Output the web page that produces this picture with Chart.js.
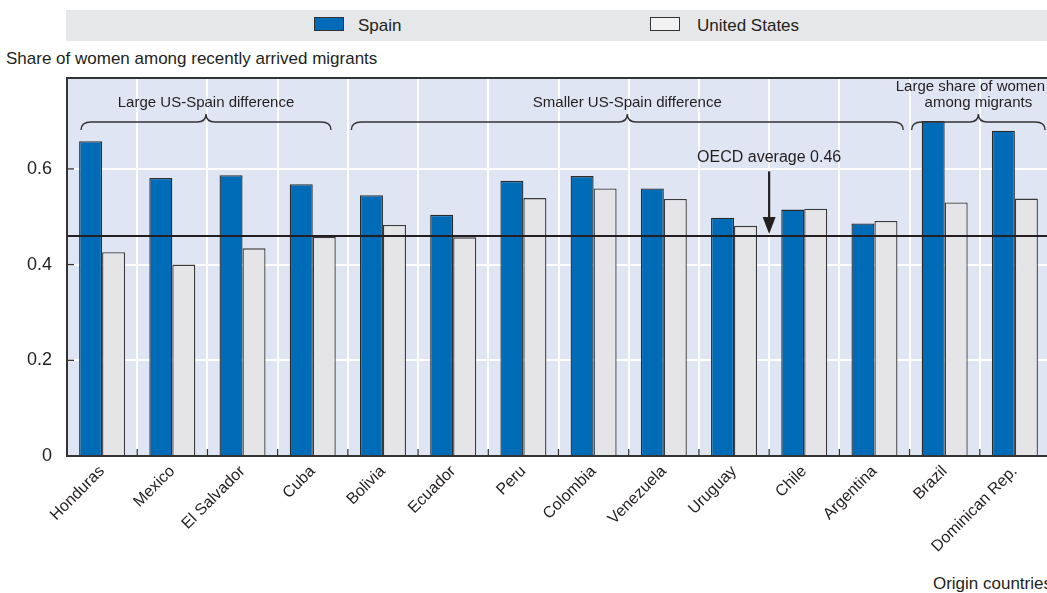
<!DOCTYPE html>
<html><head><meta charset="utf-8">
<script src="https://cdn.jsdelivr.net/npm/chart.js@4.4.1/dist/chart.umd.min.js"></script>
<style>
html,body{margin:0;padding:0;background:#fff;overflow:hidden;width:1047px;height:593px;}
#wrap{position:relative;width:1047px;height:593px;overflow:hidden;font-family:"Liberation Sans",Arial,sans-serif;color:#231f20;}
canvas{position:absolute;left:0;top:0;}
.t{position:absolute;white-space:nowrap;line-height:17px;font-size:17px;}
#legend{position:absolute;left:66px;top:10px;width:990px;height:31px;background:#e6e7e8;}
.sw{position:absolute;top:17px;width:28px;height:12px;border:1px solid #333;}
</style></head><body>
<div id="wrap">
  <div id="legend"></div>
  <div class="sw" style="left:314px;background:#006bb6;"></div>
  <div class="t" style="left:358px;top:17px;">Spain</div>
  <div class="sw" style="left:650px;background:#f2f2f2;"></div>
  <div class="t" style="left:697px;top:17px;">United States</div>
  <div class="t" style="left:6px;top:50px;">Share of women among recently arrived migrants</div>
  <div class="t" style="right:-5px;top:575px;">Origin countries</div>
  <canvas id="c" width="1050" height="593"></canvas>
</div>
<script>
const categories = ['Honduras','Mexico','El Salvador','Cuba','Bolivia','Ecuador','Peru','Colombia','Venezuela','Uruguay','Chile','Argentina','Brazil','Dominican Rep.'];
const spainValues = [0.658,0.581,0.587,0.568,0.545,0.504,0.575,0.585,0.559,0.498,0.515,0.486,0.700,0.680];
const usValues = [0.426,0.400,0.434,0.458,0.483,0.457,0.539,0.559,0.537,0.481,0.517,0.491,0.530,0.538];
const oecdAverage = 0.46;
const oecdLabel = 'OECD average 0.46';
const yTickValues = [0, 0.2, 0.4, 0.6];
const groupLabels = [['Large US-Spain difference'], ['Smaller US-Spain difference'], ['Large share of women', 'among migrants']];
const groupBraces = [[-0.3, 3.26], [3.55, 11.41], [11.53, 13.43]]; // in category-index units
const arrowAt = 9.5; // between Uruguay and Chile
const FONT = '"Liberation Sans", Arial, sans-serif';
const INK = '#231f20';

const decor = {
  id: 'decor',
  beforeDraw(chart) {
    const {ctx, chartArea: a} = chart;
    ctx.save();
    ctx.fillStyle = '#dfe5f3';
    ctx.fillRect(a.left, a.top, a.right - a.left, a.bottom - a.top);
    ctx.restore();
  },
  afterDatasetsDraw(chart) {
    const {ctx, chartArea: a, scales: {x, y}} = chart;
    const idx = v => x.getPixelForValue(0) + v * (x.getPixelForValue(1) - x.getPixelForValue(0));
    const line = (x1, y1, x2, y2) => { ctx.beginPath(); ctx.moveTo(x1, y1); ctx.lineTo(x2, y2); ctx.stroke(); };
    ctx.save();
    const yAvg = y.getPixelForValue(oecdAverage);
    ctx.strokeStyle = INK; ctx.lineWidth = 2;
    line(a.left, yAvg, a.right, yAvg);
    ctx.strokeStyle = '#333'; ctx.lineWidth = 2;
    ctx.strokeRect(a.left, a.top, a.right - a.left, a.bottom - a.top);
    ctx.lineWidth = 1.3;
    for (let i = 1; i < categories.length; i++) {
      const px = idx(i - 0.5);
      line(px, a.bottom, px, a.bottom - 7);
    }
    yTickValues.forEach(v => { if (v === 0) return; const py = y.getPixelForValue(v); line(a.left, py, a.left + 7, py); });
    ctx.fillStyle = INK; ctx.font = '15px ' + FONT; ctx.textAlign = 'center'; ctx.textBaseline = 'alphabetic';
    const yBrace = a.top + 44;
    groupBraces.forEach((g, gi) => {
      const x1 = idx(g[0]), x2 = Math.min(idx(g[1]), 1047);
      const mid = (x1 + x2) / 2;
      ctx.strokeStyle = '#333'; ctx.lineWidth = 1.4;
      ctx.beginPath();
      ctx.moveTo(x1, yBrace + 8);
      ctx.quadraticCurveTo(x1, yBrace, x1 + 10, yBrace);
      ctx.lineTo(mid - 9, yBrace);
      ctx.quadraticCurveTo(mid, yBrace, mid, yBrace - 8);
      ctx.quadraticCurveTo(mid, yBrace, mid + 9, yBrace);
      ctx.lineTo(x2 - 10, yBrace);
      ctx.quadraticCurveTo(x2, yBrace, x2, yBrace + 8);
      ctx.stroke();
      const lines = groupLabels[gi];
      lines.forEach((t, li) => {
        const w = ctx.measureText(t).width;
        let cx = mid;
        if (cx + w / 2 > 1045) cx = 1045 - w / 2;
        const base = a.top + 29 - (lines.length - 1 - li) * 16;
        ctx.fillText(t, cx, base);
      });
    });
    const ax = idx(arrowAt);
    ctx.font = '16px ' + FONT;
    ctx.fillText(oecdLabel, ax, y.getPixelForValue(0.614));
    ctx.lineWidth = 2.2; ctx.strokeStyle = INK;
    const yStart = y.getPixelForValue(0.595), tip = yAvg - 2;
    line(ax, yStart, ax, tip - 14);
    ctx.beginPath();
    ctx.moveTo(ax - 6.5, tip - 17); ctx.lineTo(ax + 6.5, tip - 17); ctx.lineTo(ax, tip); ctx.closePath();
    ctx.fillStyle = INK; ctx.fill();
    ctx.restore();
  }
};

new Chart(document.getElementById('c'), {
  type: 'bar',
  data: {
    labels: categories,
    datasets: [
      {label: 'Spain', data: spainValues, backgroundColor: '#006bb6', borderColor: '#2b2b2b', borderWidth: 1.3},
      {label: 'United States', data: usValues, backgroundColor: '#e5e5e7', borderColor: '#3a3a3a', borderWidth: 1.3}
    ]
  },
  options: {
    responsive: false,
    animation: false,
    devicePixelRatio: 1,
    layout: {padding: {top: 78, left: 0, right: 0, bottom: 0}},
    datasets: {bar: {categoryPercentage: 0.655, barPercentage: 1.0}},
    plugins: {legend: {display: false}, tooltip: {enabled: false}},
    scales: {
      x: {
        grid: {color: '#ffffff', lineWidth: 2, offset: true, drawTicks: false},
        border: {display: false},
        ticks: {font: {size: 16, family: FONT}, color: INK, minRotation: 45, maxRotation: 45, autoSkip: false, padding: 6},
        afterFit(s) { s.height = 137; }
      },
      y: {
        min: 0, max: 0.79,
        grid: {color: '#ffffff', lineWidth: 2, drawTicks: false},
        border: {display: false},
        afterBuildTicks(s) { s.ticks = yTickValues.map(v => ({value: v})); },
        ticks: {font: {size: 18, family: FONT}, color: INK, padding: 15, callback: v => String(v)},
        afterFit(s) { s.width = 67; }
      }
    }
  },
  plugins: [decor]
});
</script>
</body></html>
